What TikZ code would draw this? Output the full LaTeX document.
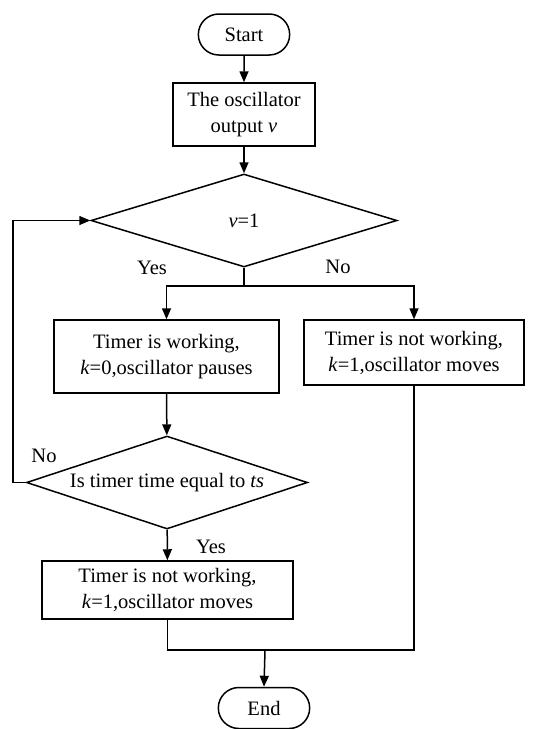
\documentclass[tikz,border=0pt]{standalone}
\usepackage{fontspec}
\setmainfont{Liberation Serif}
\usepackage{tikz}
\usetikzlibrary{shapes.geometric, shapes.misc, arrows.meta}

\begin{document}
\begin{tikzpicture}[->, >={Triangle[length=11pt,width=9pt]}, line width=1.5pt, x=1pt, y=-1pt,
    font=\fontsize{20.5}{26}\selectfont,
    term/.style={rounded rectangle, draw, minimum width=98pt, minimum height=41pt},
    proc/.style={rectangle, draw, align=center},
    test/.style={diamond, draw, aspect=3, inner sep=0pt}]
    	\useasboundingbox (0,0) rectangle (550,729);
    	\node[term] (1) at (244,34.5) {Start};
    	\node[proc, minimum width=142pt, minimum height=63pt] (2) at (244,114.5) {The oscillator\\output \textit{v}};
    	\node[test, minimum width=306pt, minimum height=93pt] (3) at (244,220.5) {\textit{v}=1};
    	\node[proc, minimum width=225pt, minimum height=73pt] (4) at (166.5,356.5) {Timer is working,\\\textit{k}=0,oscillator pauses};
    	\node[proc, minimum width=220pt, minimum height=65pt] (5) at (414,352.5) {Timer is not working,\\\textit{k}=1,oscillator moves};
    	\node[test, minimum width=281pt, minimum height=93pt] (6) at (167,482.5) {Is timer time equal to \textit{ts}};
    	\node[proc, minimum width=251pt, minimum height=58pt] (7) at (167.5,590) {Timer is not working,\\\textit{k}=1,oscillator moves};
    	\node[term] (8) at (264,708) {End};
    	\node (yes1) at (152,268) {Yes};
    	\node (no1) at (338,267) {No};
    	\node (no2) at (44,456) {No};
    	\node (yes2) at (211,547) {Yes};
    	\coordinate (a) at (244,286);
    	\coordinate (c) at (265,650);
    	\draw (1) -- (2);
    	\draw (2) -- (3);
    	\draw (3.south) -- (a) -| (4.north);
    	\draw (a) -| (5.north);
    	\draw (4) -- (6);
    	\draw (6) -- (7);
    	\draw (6.west) -- ++(-13,0) |- (3.west);
    	\draw[-] (7.south) |- (c) -| (5.south);
    	\draw (c) -- (8.north);
    \end{tikzpicture}
\end{document}
